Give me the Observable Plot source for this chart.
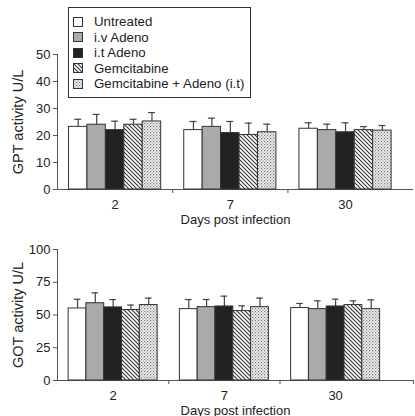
<!DOCTYPE html>
<html><head><meta charset="utf-8">
<script src="https://cdn.jsdelivr.net/npm/d3@7"></script>
<script src="https://cdn.jsdelivr.net/npm/@observablehq/plot@0.6"></script>
<style>
body{margin:0;background:#fff;font-family:"Liberation Sans",Arial,sans-serif;}
#wrap{position:relative;width:415px;height:416px;overflow:hidden;background:#fff;}
#top,#bot{position:absolute;left:0;}
#top{top:0}
#bot{top:230px}
#legend{position:absolute;left:68px;top:7px;width:183px;height:91px;border:1px solid #333;background:#fff;box-sizing:border-box;padding-top:6px;font-size:13.3px;color:#222;}
.row{height:15.5px;display:flex;align-items:center;}
.row svg{margin-left:4px;margin-right:11px;flex:none;}
g[aria-label="y-axis label"] text{font-size:14.5px;}
</style></head>
<body>
<svg width="0" height="0" style="position:absolute">
  <defs>
    <pattern id="hatch" width="4" height="4" patternUnits="userSpaceOnUse">
      <rect width="4" height="4" fill="#fff"/>
      <path d="M-1,-1 L5,5 M-1,3 L1,5 M3,-1 L5,1" stroke="#333" stroke-width="1.1"/>
    </pattern>
    <pattern id="dots" width="3" height="3" patternUnits="userSpaceOnUse">
      <rect width="3" height="3" fill="#f2f2f2"/>
      <rect x="0" y="0" width="1.2" height="1.2" fill="#777"/>
      <rect x="1.5" y="1.5" width="1.2" height="1.2" fill="#999"/>
    </pattern>
  </defs>
</svg>
<div id="wrap">
  <div id="top"></div>
  <div id="bot"></div>
  <div id="legend"></div>
</div>
<script>
const days = ["2", "7", "30"];
const series = ["Untreated", "i.v Adeno", "i.t Adeno", "Gemcitabine", "Gemcitabine + Adeno (i.t)"];
const fills = ["#ffffff", "#aaaaaa", "#222222", "url(#hatch)", "url(#dots)"];

// GPT (rows = days 2, 7, 30; columns = series)
const gptMean = [
  [23.2, 24.0, 22.0, 24.0, 25.2],
  [22.0, 23.2, 20.9, 20.2, 21.2],
  [22.5, 22.0, 21.2, 22.0, 21.8]
];
const gptSD = [
  [2.8, 3.8, 3.3, 2.0, 3.3],
  [3.2, 3.2, 4.3, 4.4, 3.0],
  [2.2, 2.2, 3.5, 1.3, 1.9]
];
const gptTicks = [0, 10, 20, 30, 40, 50];

// GOT
const gotMean = [
  [55.0, 59.0, 55.8, 53.8, 57.6],
  [54.5, 56.0, 56.5, 53.0, 56.0],
  [55.3, 54.5, 56.5, 57.6, 54.5]
];
const gotSD = [
  [7.0, 7.9, 6.0, 3.8, 5.3],
  [7.3, 5.8, 7.9, 4.0, 6.9],
  [3.5, 6.3, 5.6, 3.2, 7.1]
];
const gotTicks = [0, 25, 50, 75, 100];

function chart({mean, sd, yTicks, yLabel, height, marginTop, marginBottom, xMax, sepTicks}) {
  const yMax = yTicks[yTicks.length - 1];
  const bw = 0.16;
  const rows = [];
  days.forEach((day, d) => series.forEach((s, i) => {
    const x1 = d - 2.5 * bw + i * bw;
    rows.push({day, series: s, x1, x2: x1 + bw, xc: x1 + bw / 2, v: mean[d][i], hi: mean[d][i] + sd[d][i]});
  }));
  return Plot.plot({
    width: 415, height, marginLeft: 57, marginRight: 2, marginTop, marginBottom,
    x: {domain: [-0.5, xMax], axis: null},
    y: {domain: [0, yMax], axis: null},
    color: {type: "ordinal", domain: series, range: fills},
    style: {fontFamily: "'Liberation Sans', Arial, sans-serif", fontSize: "13px", color: "#222", background: "transparent"},
    marks: [
      Plot.ruleX([-0.5], {y1: 0, y2: yMax, stroke: "#555"}),
      Plot.ruleY([0], {stroke: "#555"}),
      Plot.axisY({ticks: yTicks, tickSize: 4, tickPadding: 3, stroke: "#555", label: yLabel, labelAnchor: "center", labelArrow: "none", labelOffset: 45}),
      Plot.axisX({ticks: [0, 1, 2], tickFormat: i => days[i], tickSize: 0, tickPadding: 10, label: "Days post infection", labelAnchor: "center", labelArrow: "none", labelOffset: 34}),
      Plot.axisX({ticks: sepTicks, tickFormat: () => "", tickSize: 4, stroke: "#555", label: null}),
      Plot.ruleX(rows, {x: "xc", y1: "v", y2: "hi", stroke: "#444", strokeWidth: 1.2}),
      Plot.ruleY(rows, {y: "hi", x1: d => d.xc - 0.03, x2: d => d.xc + 0.03, stroke: "#444", strokeWidth: 1.2}),
      Plot.rectY(rows, {x1: "x1", x2: "x2", y1: 0, y2: "v", fill: "series", stroke: "#333", strokeWidth: 1})
    ]
  });
}

document.getElementById("top").append(chart({
  mean: gptMean, sd: gptSD, yTicks: gptTicks, yLabel: "GPT activity U/L",
  height: 230, marginTop: 54, marginBottom: 41, xMax: 2.59, sepTicks: [0.5, 1.5]
}));
document.getElementById("bot").append(chart({
  mean: gotMean, sd: gotSD, yTicks: gotTicks, yLabel: "GOT activity U/L",
  height: 186, marginTop: 19, marginBottom: 36, xMax: 2.7, sepTicks: [0.5, 1.5, 2.7]
}));

const legend = document.getElementById("legend");
series.forEach((s, i) => {
  const row = document.createElement("div");
  row.className = "row";
  row.innerHTML = `<svg width="10" height="10"><rect x="0.5" y="0.5" width="9" height="9" fill="${fills[i]}" stroke="#333"/></svg><span>${s}</span>`;
  legend.append(row);
});
</script>
</body></html>
